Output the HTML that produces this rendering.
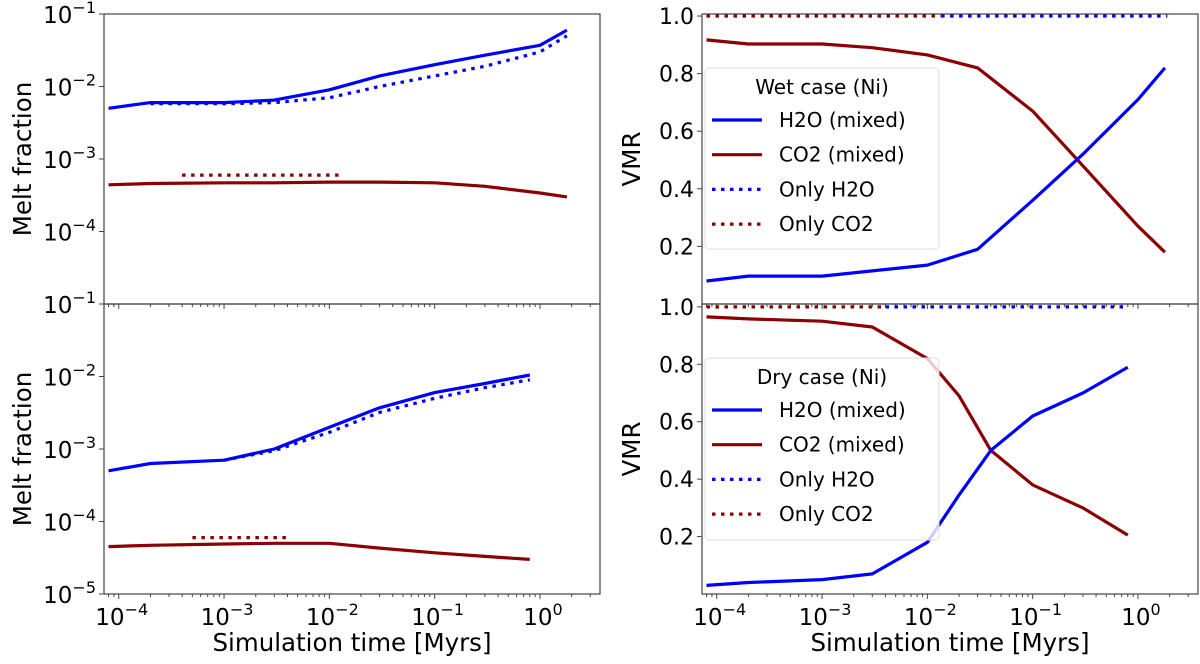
<!DOCTYPE html>
<html><head><meta charset="utf-8"><style>
body{margin:0;background:#fff;}
svg{display:block;font-family:"DejaVu Sans","Liberation Sans",sans-serif;}
</style></head><body>
<svg id="fig" width="1200" height="664"></svg>
<script>
// ---- data (x in Myr) ----
const wetX = [8e-5,2e-4,1e-3,3e-3,1e-2,3e-2,0.1,0.3,1,1.8];
const wetMeltH2O = [5e-3,6e-3,6e-3,6.5e-3,9e-3,1.4e-2,2e-2,2.7e-2,3.7e-2,6e-2];
const wetMeltH2OOnlyX = [2e-4,1e-3,3e-3,1e-2,3e-2,0.1,0.3,1,1.8];
const wetMeltH2OOnly = [5.8e-3,5.8e-3,6e-3,7e-3,1e-2,1.4e-2,1.9e-2,3e-2,5e-2];
const wetMeltCO2 = [4.4e-4,4.6e-4,4.7e-4,4.7e-4,4.8e-4,4.8e-4,4.7e-4,4.2e-4,3.4e-4,3e-4];
const wetMeltCO2OnlyX = [4e-4,1.3e-2];
const wetMeltCO2Only = [6e-4,6e-4];
const dryX = [8e-5,2e-4,1e-3,3e-3,1e-2,3e-2,0.1,0.3,0.8];
const dryMeltH2O = [5e-4,6.3e-4,7e-4,1e-3,2e-3,3.7e-3,6e-3,8e-3,1.05e-2];
const dryMeltH2OOnlyX = [1e-3,3e-3,1e-2,3e-2,0.1,0.3,0.8];
const dryMeltH2OOnly = [7e-4,9.5e-4,1.7e-3,3.2e-3,5e-3,7e-3,9e-3];
const dryMeltCO2 = [4.5e-5,4.7e-5,4.9e-5,5e-5,5e-5,4.3e-5,3.7e-5,3.3e-5,3e-5];
const dryMeltCO2OnlyX = [5e-4,4e-3];
const dryMeltCO2Only = [6e-5,6e-5];
const wetVmrCO2 = [0.917,0.903,0.903,0.89,0.865,0.82,0.67,0.48,0.27,0.18];
const wetVmrH2O = [0.08,0.097,0.097,0.115,0.135,0.19,0.36,0.52,0.71,0.82];
const wetSwitchX = [8e-5,1.35e-2,1.9];
const dryVmrX = [8e-5,2e-4,1e-3,3e-3,1e-2,2e-2,4e-2,0.1,0.3,0.8];
const dryVmrCO2 = [0.965,0.958,0.95,0.93,0.82,0.69,0.50,0.38,0.30,0.205];
const dryVmrH2O = [0.03,0.04,0.05,0.07,0.18,0.345,0.50,0.62,0.70,0.79];
const drySwitchX = [8e-5,4e-3,0.8];
const xTicks = [-4,-3,-2,-1,0];
const vmrTicks = [1.0,0.8,0.6,0.4,0.2];

const NS="http://www.w3.org/2000/svg";
const svg=document.getElementById('fig');
function el(tag,attrs,parent){const e=document.createElementNS(NS,tag);for(const k in attrs)e.setAttribute(k,attrs[k]);(parent||svg).appendChild(e);return e;}
const BLUE="#0000ff", RED="#8b0000";
const LX0=-4.14, LX1=0.57;
function mkPanel(x0,x1,y0,y1,ylog,ymin,ymax){
  return {x:v=>x0+(Math.log10(v)-LX0)/(LX1-LX0)*(x1-x0),
    y:v=>ylog? y1-(Math.log10(v)-ymin)/(ymax-ymin)*(y1-y0) : y1-(v-ymin)/(ymax-ymin)*(y1-y0),
    x0,x1,y0,y1};
}
const pTL=mkPanel(104,600,14,304,true,-5,-1);
const pBL=mkPanel(104,600,304,594,true,-5,-1);
const pTR=mkPanel(702,1198,14,304,false,0.0,1.007);
const pBR=mkPanel(702,1198,304,594,false,0.0,1.01);

function line(p,xs,ys,color,dotted,name){
  const d=xs.map((v,i)=>(i?'L':'M')+p.x(v).toFixed(1)+','+p.y(ys[i]).toFixed(1)).join(' ');
  const e=el('path',{d:d,fill:'none',stroke:color,'stroke-width':3.2,'stroke-linejoin':'round'});
  if(dotted)e.setAttribute('stroke-dasharray','3.5 5.5');
  
  
}
function txt(x,y,s,size,anchor,name){const t=el('text',{x:x,y:y,'font-size':size,'text-anchor':anchor||'middle',fill:'#000'});t.innerHTML=s;
  
  
  return t;}
function frame(p,name){const r=el('rect',{x:p.x0,y:p.y0,width:p.x1-p.x0,height:p.y1-p.y0,fill:'none',stroke:'#444','stroke-width':1.2});
  
  }
function xticks(p,labels){
  for(let d=-5;d<=1;d++)for(let m=1;m<10;m++){const v=m*Math.pow(10,d);const xx=p.x(v);if(xx<p.x0||xx>p.x1)continue;
    el('line',{x1:xx,x2:xx,y1:p.y1,y2:p.y1+(m==1?5:3),stroke:'#444','stroke-width':1});}
  if(labels)xTicks.forEach(k=>{txt(p.x(Math.pow(10,k))+3,p.y1+31,'10<tspan dy="-10" font-size="16">'+(k<0?'−'+(-k):k)+'</tspan>',23,'middle','x-tick-label');});
}
function ylogTicks(p,labels){
  labels.forEach((lab,i)=>{const v=-1-i;const yy=p.y(Math.pow(10,v));
    el('line',{x1:p.x0-5,x2:p.x0,y1:yy,y2:yy,stroke:'#444'});
    txt(p.x0-8,yy+9,'10<tspan dy="-10" font-size="16">'+lab+'</tspan>',23,'end','y-tick-label');});
}
function ylinTicks(p,vals){
  vals.forEach(v=>{const yy=p.y(v);el('line',{x1:p.x0-5,x2:p.x0,y1:yy,y2:yy,stroke:'#444'});
    txt(p.x0-8,yy+8,v.toFixed(1),22,'end','y-tick-label');});
}
function legend(x,y,h,title,name){
  const g=el('g',{});
  
  
  el('rect',{x:x,y:y,width:234,height:h,rx:4,fill:'#fff','fill-opacity':0.8,stroke:'#ddd'},g);
  const t=el('text',{x:x+117,y:y+26,'font-size':20,'text-anchor':'middle'},g);t.textContent=title;
  const items=[['H2O (mixed)',BLUE,false],['CO2 (mixed)',RED,false],['Only H2O',BLUE,true],['Only CO2',RED,true]];
  items.forEach((it,i)=>{const yy=y+52+i*34.7;
    const l=el('line',{x1:x+7,x2:x+57,y1:yy,y2:yy,stroke:it[1],'stroke-width':3.2},g);
    if(it[2])l.setAttribute('stroke-dasharray','3.5 5.5');
    const tt=el('text',{x:x+74,y:yy+7,'font-size':20},g);tt.textContent=it[0];});
}

// Top-left
line(pTL,wetX,wetMeltH2O,BLUE,false,'wet-melt-h2o-mixed');
line(pTL,wetMeltH2OOnlyX,wetMeltH2OOnly,BLUE,true,'wet-melt-h2o-only');
line(pTL,wetX,wetMeltCO2,RED,false,'wet-melt-co2-mixed');
line(pTL,wetMeltCO2OnlyX,wetMeltCO2Only,RED,true,'wet-melt-co2-only');
frame(pTL,'top-left-axes');xticks(pTL,false);
ylogTicks(pTL,['−1','−2','−3','−4']);
// Bottom-left
line(pBL,dryX,dryMeltH2O,BLUE,false,'dry-melt-h2o-mixed');
line(pBL,dryMeltH2OOnlyX,dryMeltH2OOnly,BLUE,true,'dry-melt-h2o-only');
line(pBL,dryX,dryMeltCO2,RED,false,'dry-melt-co2-mixed');
line(pBL,dryMeltCO2OnlyX,dryMeltCO2Only,RED,true,'dry-melt-co2-only');
frame(pBL,'bottom-left-axes');xticks(pBL,true);
ylogTicks(pBL,['−1','−2','−3','−4','−5']);
// Top-right
line(pTR,wetX,wetVmrCO2,RED,false,'wet-vmr-co2-mixed');
line(pTR,wetX,wetVmrH2O,BLUE,false,'wet-vmr-h2o-mixed');
line(pTR,wetSwitchX.slice(0,2),[1,1],RED,true,'wet-vmr-co2-only');
line(pTR,wetSwitchX.slice(1),[1,1],BLUE,true,'wet-vmr-h2o-only');
frame(pTR,'top-right-axes');xticks(pTR,false);
ylinTicks(pTR,vmrTicks);
legend(705,68,181,'Wet case (Ni)','wet-legend');
// Bottom-right
line(pBR,dryVmrX,dryVmrCO2,RED,false,'dry-vmr-co2-mixed');
line(pBR,dryVmrX,dryVmrH2O,BLUE,false,'dry-vmr-h2o-mixed');
line(pBR,drySwitchX.slice(0,2),[1,1],RED,true,'dry-vmr-co2-only');
line(pBR,drySwitchX.slice(1),[1,1],BLUE,true,'dry-vmr-h2o-only');
frame(pBR,'bottom-right-axes');xticks(pBR,true);
ylinTicks(pBR,vmrTicks);
legend(705,358,182,'Dry case (Ni)','dry-legend');

// axis titles
txt(352,651,'Simulation time [Myrs]',24.5,'middle','x-axis-title-left');
txt(950,651,'Simulation time [Myrs]',24.5,'middle','x-axis-title-right');
const a1=txt(0,0,'Melt fraction',24.5,'middle','y-axis-title-top-left');a1.setAttribute('transform','translate(31,159) rotate(-90)');
const a2=txt(0,0,'Melt fraction',24.5,'middle','y-axis-title-bottom-left');a2.setAttribute('transform','translate(31,449) rotate(-90)');
const a3=txt(0,0,'VMR',24.5,'middle','y-axis-title-top-right');a3.setAttribute('transform','translate(640,159) rotate(-90)');
const a4=txt(0,0,'VMR',24.5,'middle','y-axis-title-bottom-right');a4.setAttribute('transform','translate(640,449) rotate(-90)');
</script>
</body></html>
